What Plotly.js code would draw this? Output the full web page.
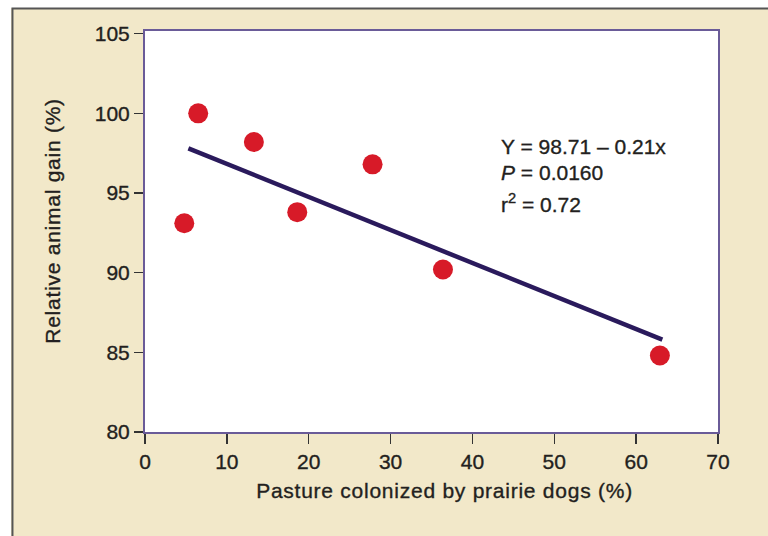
<!DOCTYPE html>
<html>
<head>
<meta charset="utf-8">
<script src="https://cdn.plot.ly/plotly-3.0.1.min.js"></script>
<style>
html,body{margin:0;padding:0;background:#fff;}
#chart{width:768px;height:536px;}
#chart svg text{stroke:#231f20;stroke-width:0.35px;}
g.annotation[data-index="3"] text, g.annotation[data-index="4"] text{letter-spacing:0.75px;}
</style>
</head>
<body>
<div id="chart"></div>
<script>
// Data
var pastureColonized = [4.8, 6.5, 13.3, 18.6, 27.8, 36.4, 62.9];
var relativeGain = [93.1, 100.0, 98.2, 93.8, 96.8, 90.2, 84.8];
var fitX = [5.3, 63.2];
var fitY = [97.8, 85.8];
var xTicks = [0, 10, 20, 30, 40, 50, 60, 70];
var yTicks = [80, 85, 90, 95, 100, 105];
var statLines = ["Y = 98.71 \u2013 0.21x", "<i>P</i> = 0.0160", "r<sup>2</sup> = 0.72"];
var statY = [97.93, 96.3, 94.4];

var font = "Liberation Sans, Arial, Helvetica, sans-serif";
var txt = "#231f20";

var traces = [
  {x: fitX, y: fitY, mode: "lines", type: "scatter",
   line: {color: "#2a1a5c", width: 4.5}, hoverinfo: "skip"},
  {x: pastureColonized, y: relativeGain, mode: "markers", type: "scatter",
   marker: {color: "#d71a28", size: 20, line: {width: 0}}}
];

var annotations = statLines.map(function (t, i) {
  return {x: 43.2, y: statY[i], xref: "x", yref: "y", text: t, showarrow: false,
          xanchor: "left", yanchor: "middle", font: {family: font, size: 21, color: txt}};
});
annotations.push({x: 0.5227, y: -0.1457, xref: "paper", yref: "paper", showarrow: false,
  text: "Pasture colonized by prairie dogs (%)", xanchor: "center", yanchor: "middle",
  font: {family: font, size: 21, color: txt}});
annotations.push({x: -0.1606, y: 0.5268, xref: "paper", yref: "paper", showarrow: false,
  text: "Relative animal gain (%)", textangle: -90, xanchor: "center", yanchor: "middle",
  font: {family: font, size: 21, color: txt}});

var layout = {
  width: 768, height: 536,
  margin: {l: 145, r: 50, t: 31, b: 103.5, pad: 0},
  paper_bgcolor: "#f2e8c9",
  plot_bgcolor: "#ffffff",
  showlegend: false,
  font: {family: font, size: 21, color: txt},
  xaxis: {range: [0, 70], tickvals: xTicks, ticktext: xTicks.map(String),
          showgrid: false, zeroline: false, showline: true, mirror: true,
          linecolor: "#6a5b98", linewidth: 2, ticks: "outside", ticklen: 10,
          tickcolor: "#333", tickwidth: 1.5, fixedrange: true,
          tickfont: {family: font, size: 21, color: txt}},
  yaxis: {range: [80, 105.17], tickvals: yTicks, ticktext: yTicks.map(String),
          showgrid: false, zeroline: false, showline: true, mirror: true,
          linecolor: "#6a5b98", linewidth: 2, ticks: "outside", ticklen: 9,
          tickcolor: "#333", tickwidth: 1.5, fixedrange: true,
          tickfont: {family: font, size: 21, color: txt}},
  annotations: annotations,
  shapes: [
    {type: "rect", xref: "paper", yref: "paper", x0: -0.3, x1: -0.2339, y0: -0.3, y1: 1.2,
     fillcolor: "#ffffff", line: {width: 0}, layer: "above"},
    {type: "rect", xref: "paper", yref: "paper", x0: -0.3, x1: 1.2, y0: 1.0573, y1: 1.2,
     fillcolor: "#ffffff", line: {width: 0}, layer: "above"},
    {type: "path", xref: "paper", yref: "paper",
     path: "M -0.2313 -0.3 L -0.2313 1.0560 L 1.2 1.0560",
     line: {color: "#555555", width: 2}, layer: "above"}
  ]
};

Plotly.newPlot("chart", traces, layout, {displayModeBar: false, staticPlot: true});
</script>
</body>
</html>
